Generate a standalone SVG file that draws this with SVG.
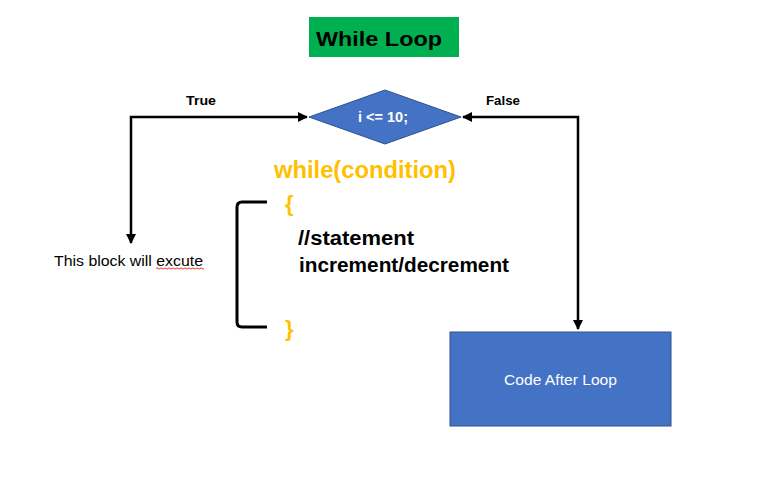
<svg xmlns="http://www.w3.org/2000/svg" width="763" height="496" viewBox="0 0 763 496">
<style>
.b{font-family:"Liberation Sans",Arial,sans-serif;font-weight:bold}
.r{font-family:"Liberation Sans",Arial,sans-serif}
.conn{fill:none;stroke:#000;stroke-width:2.5}
.org{fill:#FFC000}
</style>
<defs>
<marker id="ah" viewBox="0 0 10 10" refX="9" refY="5" markerWidth="4" markerHeight="4" orient="auto-start-reverse" markerUnits="strokeWidth">
<path d="M0,0 L10,5 L0,10 z" fill="#000"/>
</marker>
</defs>
<rect width="763" height="496" fill="#fff"/>
<g id="title">
<rect x="309" y="17" width="150" height="40" fill="#00B050"/>
<text x="316" y="46" class="b" font-size="21" fill="#000" textLength="126" lengthAdjust="spacingAndGlyphs">While Loop</text>
</g>
<g id="connectors">
<path class="conn" d="M131,243 L131,117 L307,117" marker-start="url(#ah)" marker-end="url(#ah)"/>
<path class="conn" d="M463,117 L578,117 L578,329" marker-start="url(#ah)" marker-end="url(#ah)"/>
<text x="186" y="105" class="b" font-size="13" textLength="30" lengthAdjust="spacingAndGlyphs">True</text>
<text x="486" y="105" class="b" font-size="13" textLength="34" lengthAdjust="spacingAndGlyphs">False</text>
</g>
<g id="condition">
<polygon points="385,90 461,117 385,144 309,117" fill="#4472C4" stroke="#2F528F" stroke-width="1"/>
<text x="358" y="122" class="b" font-size="14" fill="#fff" textLength="50" lengthAdjust="spacingAndGlyphs">i &lt;= 10;</text>
</g>
<g id="block-label">
<text x="54" y="266" class="r" font-size="14" fill="#000" textLength="149" lengthAdjust="spacingAndGlyphs">This block will excute</text>
<path d="M156,268.5 q1,-1.2 2,0 t2,0 t2,0 t2,0 t2,0 t2,0 t2,0 t2,0 t2,0 t2,0 t2,0 t2,0 t2,0 t2,0 t2,0 t2,0 t2,0 t2,0 t2,0 t2,0 t2,0 t2,0 t2,0 t2,0" fill="none" stroke="#E00" stroke-width="0.8"/>
</g>
<g id="code">
<text x="274" y="178" class="b org" font-size="23" textLength="182" lengthAdjust="spacingAndGlyphs">while(condition)</text>
<text x="285" y="211" class="b org" font-size="22">{</text>
<text x="285" y="336" class="b org" font-size="22">}</text>
<path d="M267,202 L242,202 Q237,202 237,207 L237,322 Q237,327 242,327 L267,327" fill="none" stroke="#000" stroke-width="3"/>
<text x="298" y="245" class="b" font-size="20" fill="#000" textLength="116" lengthAdjust="spacingAndGlyphs">//statement</text>
<text x="299" y="272" class="b" font-size="20" fill="#000" textLength="210" lengthAdjust="spacingAndGlyphs">increment/decrement</text>
</g>
<g id="after-loop">
<rect x="450" y="332" width="221" height="94" fill="#4472C4" stroke="#2F528F" stroke-width="1"/>
<text x="504" y="385" class="r" font-size="15" fill="#fff" textLength="113" lengthAdjust="spacingAndGlyphs">Code After Loop</text>
</g>
</svg>
